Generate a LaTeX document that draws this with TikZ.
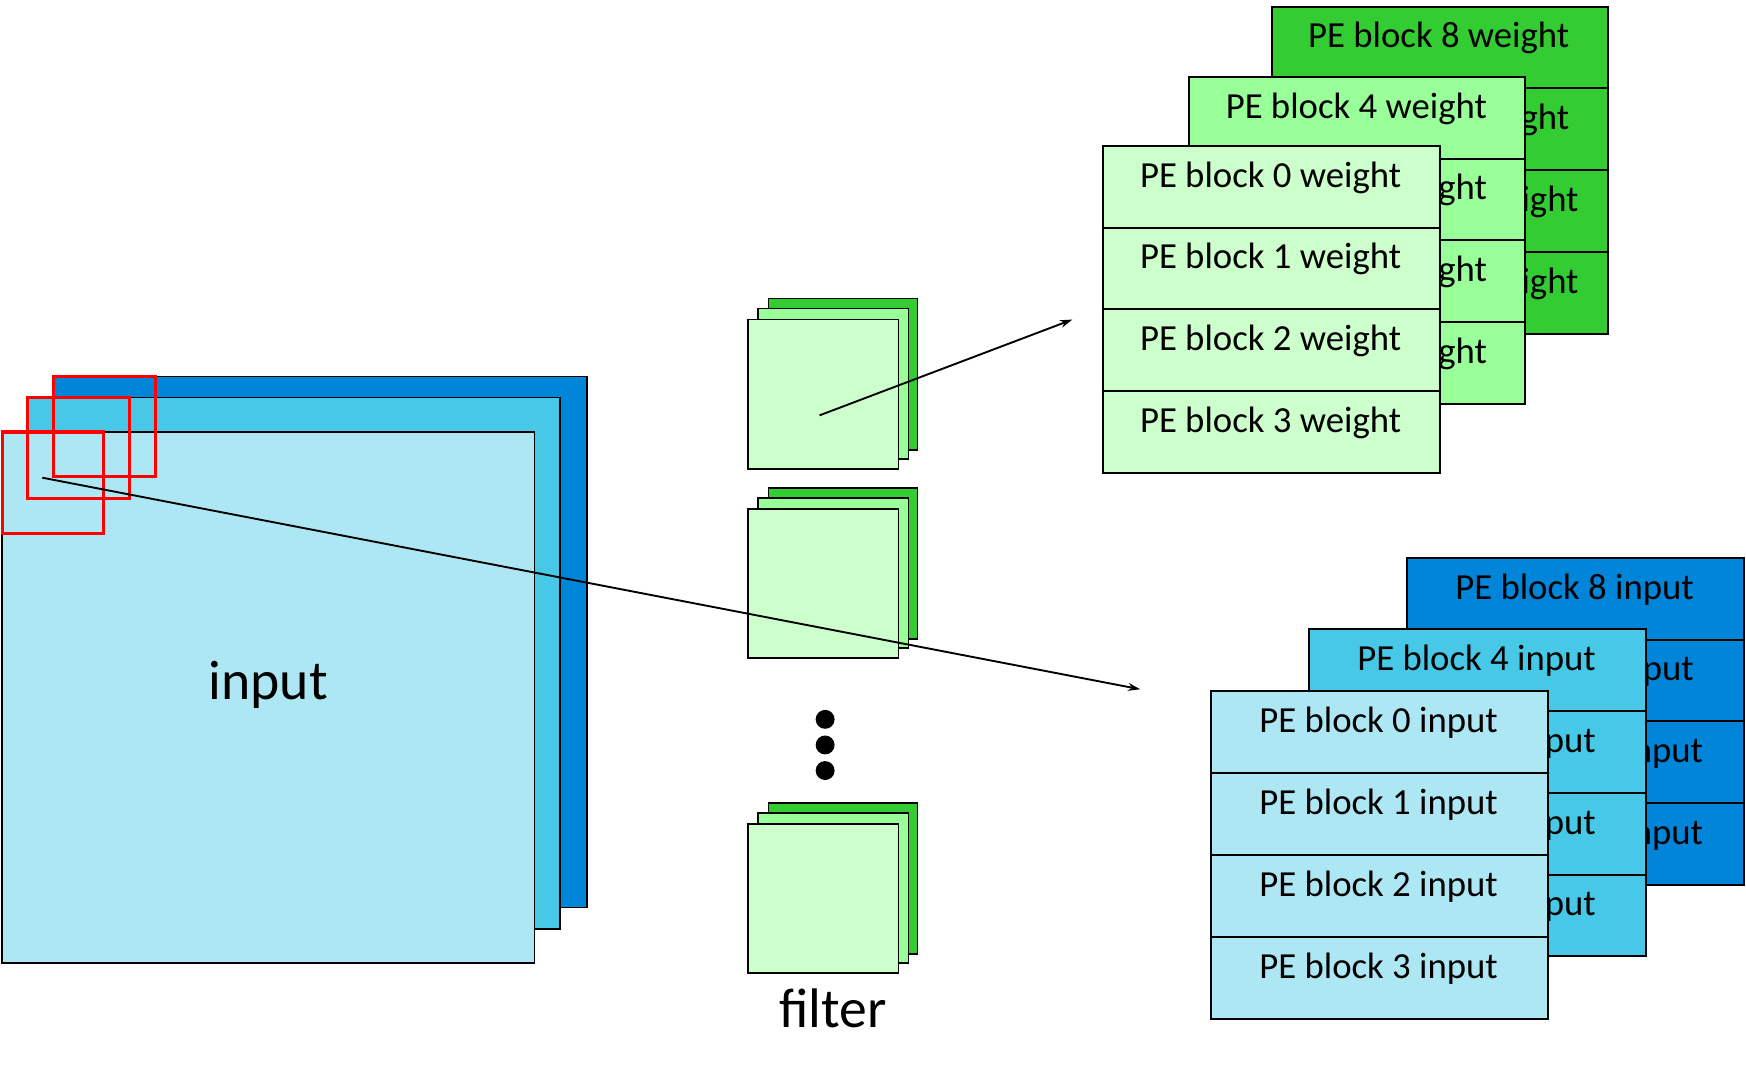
\documentclass[tikz,border=0pt]{standalone}
\usepackage{fontspec}
\setmainfont{Carlito}
\usetikzlibrary{arrows.meta}
\definecolor{gA}{HTML}{33CC33}
\definecolor{gB}{HTML}{99FF99}
\definecolor{gC}{HTML}{CCFFCC}
\definecolor{bA}{HTML}{0085D9}
\definecolor{bB}{HTML}{47C8E6}
\definecolor{bC}{HTML}{AEE7F4}
\begin{document}
\begin{tikzpicture}[x=1pt,y=-1pt,
  cell/.style={draw=black,line width=1.8pt,minimum width=302pt,minimum height=73.5pt,inner sep=0pt,anchor=north west},
  lbl/.style={font=\fontsize{33}{36}\selectfont,anchor=base},
  sq/.style={draw=black,line width=1.5pt},
  red/.style={draw=red,line width=2.8pt},
  arr/.style={-{Stealth[length=11pt,width=7pt]},line width=1.7pt}]
\useasboundingbox (0,0) rectangle (1568,968);
% weight stacks
\foreach \nm/\x/\y/\c/\k in {w8/1141/5/gA/8,w4/1067/68/gB/4,w0/990/130/gC/0}{
  \foreach \r in {0,1,2,3}{
    \pgfmathtruncatemacro{\b}{\k+\r}
    \node[cell,fill=\c] (\nm-\r) at (\x,\y+73.5*\r) {};
    \node[lbl] (\nm-\r-t) at (\x+151,\y+73.5*\r+38) {PE block \b\ weight};
  }
}
% input stacks
\foreach \nm/\x/\y/\c/\k in {i8/1263/500/bA/8,i4/1175/564/bB/4,i0/1087/620/bC/0}{
  \foreach \r in {0,1,2,3}{
    \pgfmathtruncatemacro{\b}{\k+\r}
    \node[cell,fill=\c] (\nm-\r) at (\x,\y+73.5*\r) {};
    \node[lbl] (\nm-\r-t) at (\x+151,\y+73.5*\r+38) {PE block \b\ input};
  }
}
% input volume
\draw[sq,fill=bA] (48,338) rectangle (527,815);
\draw[sq,fill=bB] (25,357) rectangle (503,834);
\draw[sq,fill=bC] (2,388) rectangle (480,865);
\node[font=\fontsize{50}{54}\selectfont] (inp) at (241,615) {input};
\draw[red] (48,338) rectangle (140,428);
\draw[red] (25,357) rectangle (116,448);
\draw[red] (2,388) rectangle (93,479);
% filters
\foreach \dy/\nm in {0/f1,170/f2,453/f3}{
  \draw[sq,fill=gA] (690,268+\dy) rectangle (824,404+\dy);
  \draw[sq,fill=gB] (681,277+\dy) rectangle (816,412+\dy);
  \draw[sq,fill=gC] (672,287+\dy) rectangle (807,421+\dy);
}
\foreach \yy in {646,669,692}{\fill (741,\yy) circle (8.5);}
\node[font=\fontsize{50}{54}\selectfont] (filt) at (748,906) {filter};
% arrows
\coordinate (a1) at (736,373);
\coordinate (b1) at (963,287);
\coordinate (a2) at (38,429);
\coordinate (b2) at (1024,619);
\draw[arr] (a1) -- (b1);
\draw[arr] (a2) -- (b2);
\end{tikzpicture}
\end{document}
